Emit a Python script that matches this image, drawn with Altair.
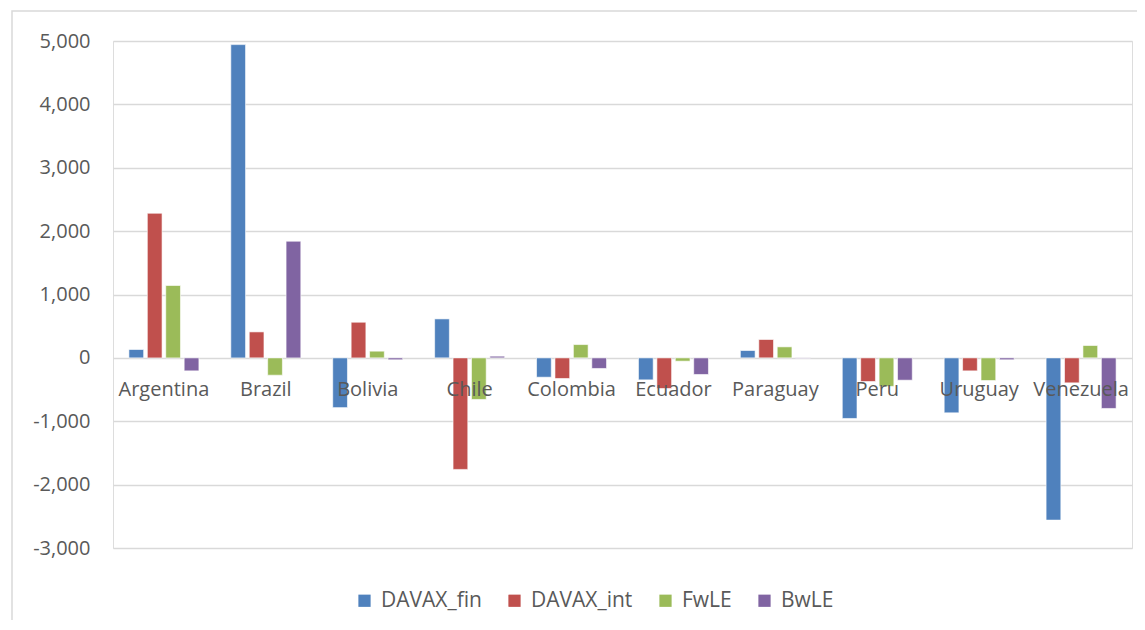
import altair as alt
import pandas as pd

countries = ["Argentina", "Brazil", "Bolivia", "Chile", "Colombia", "Ecuador",
             "Paraguay", "Peru", "Uruguay", "Venezuela"]
series = ["DAVAX_fin", "DAVAX_int", "FwLE", "BwLE"]
davax_fin = [132, 4943, -785, 615, -305, -347, 116, -956, -867, -2560]
davax_int = [2282, 410, 563, -1760, -325, -483, 290, -373, -205, -394]
fwle = [1142, -273, 106, -656, 210, -52, 174, -450, -357, 195]
bwle = [-205, 1841, -30, 27, -167, -262, -8, -352, -30, -798]
colors = ["#4F81BD", "#C0504D", "#9BBB59", "#8064A2"]
y_ticks = [-3000, -2000, -1000, 0, 1000, 2000, 3000, 4000, 5000]

rows = []
for s, vals in zip(series, [davax_fin, davax_int, fwle, bwle]):
    for c, v in zip(countries, vals):
        rows.append({"country": c, "series": s, "value": v})
df = pd.DataFrame(rows)

W, H = 1019, 507
TXT = "#595959"
GRID = "#D9D9D9"

x_scale = alt.Scale(domain=countries, paddingInner=0.277, paddingOuter=0.138)
y_scale = alt.Scale(domain=[-3000, 5000], nice=False)

bars = alt.Chart(df).mark_bar(stroke="white", strokeWidth=0.6).encode(
    x=alt.X("country:N", sort=countries, scale=x_scale, axis=None),
    xOffset=alt.XOffset("series:N", sort=series,
                        scale=alt.Scale(domain=series, paddingInner=0.2, paddingOuter=0.1)),
    y=alt.Y("value:Q", scale=y_scale,
            axis=alt.Axis(values=y_ticks, format=",.0f", title=None, grid=True,
                          labelExpr="replace(datum.label, '\u2212', '-')",
                          gridColor=GRID, gridWidth=1.5, domain=False, ticks=False,
                          labelPadding=23, labelFontSize=20, labelColor=TXT,
                          labelFont="Open Sans")),
    color=alt.Color("series:N", sort=series,
                    scale=alt.Scale(domain=series, range=colors),
                    legend=alt.Legend(title=None, orient="none", direction="horizontal",
                                      legendX=241, legendY=549, symbolType="square",
                                      symbolSize=150, symbolStrokeWidth=0,
                                      labelFontSize=21, labelColor=TXT,
                                      labelFont="Open Sans", columnPadding=22,
                                      labelOffset=6)),
)

lab_df = pd.DataFrame({"country": countries, "zero": [0] * len(countries)})
labels = alt.Chart(lab_df).mark_text(
    fontSize=20, color=TXT, font="Open Sans", dy=32, baseline="middle", align="center"
).encode(
    x=alt.X("country:N", sort=countries, scale=x_scale, axis=None),
    y=alt.Y("zero:Q", scale=y_scale),
    text="country:N",
)

frame = alt.Chart(alt.Data(values=[{"a": 1}])).mark_rect(
    fill=None, stroke=GRID, strokeWidth=1.5
).encode(
    x=alt.value(-101), x2=alt.value(1040), y=alt.value(-30), y2=alt.value(600)
)

chart = alt.layer(frame, bars, labels).properties(
    width=W, height=H,
    autosize=alt.AutoSizeParams(type="none"),
    padding={"left": 105, "top": 33, "right": 5, "bottom": 72},
).configure_view(stroke=None).configure(font="Open Sans")

chart.save("out.html", embed_options={"renderer": "svg", "actions": False})
